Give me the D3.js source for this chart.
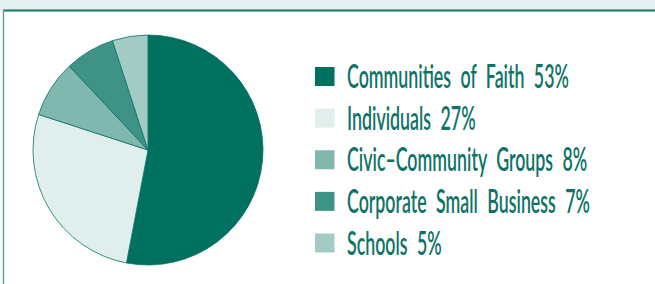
<!DOCTYPE html>
<html><head><meta charset="utf-8">
<script src="https://cdn.jsdelivr.net/npm/d3@7"></script>
<style>html,body{margin:0;padding:0;background:#fff;overflow:hidden}</style>
</head><body>
<svg id="c" width="655" height="284"></svg>
<script>
const categories = ["Communities of Faith", "Individuals", "Civic\u2013Community Groups", "Corporate Small Business", "Schools"];
const values = [53, 27, 8, 7, 5];
const colors = ["#00705f", "#e0eeec", "#80b8b0", "#3e9286", "#a3cbc6"];

const svg = d3.select("#c");
svg.append("rect").attr("x",0).attr("y",0).attr("width",655).attr("height",10).attr("fill","#e5efed");
svg.append("line").attr("x1",3).attr("x2",655).attr("y1",10.5).attr("y2",10.5).attr("stroke","#0e7768").attr("stroke-width",2);
svg.append("line").attr("x1",3.5).attr("x2",3.5).attr("y1",10).attr("y2",284).attr("stroke","#5fa298").attr("stroke-width",1.5);

const data = categories.map((c,i)=>({name:c, value:values[i], color:colors[i]}));
const pie = d3.pie().value(d=>d.value).sort(null);
const arc = d3.arc().innerRadius(0).outerRadius(115);
const g = svg.append("g").attr("transform","translate(148,150)");
g.selectAll("path").data(pie(data)).join("path")
  .attr("d",arc).attr("fill",d=>d.data.color)
  .attr("stroke","#0b7264").attr("stroke-width",0.8).attr("stroke-linejoin","round");

const y = d3.scalePoint().domain(categories).range([76.5,243]);
const leg = svg.append("g");
const rows = leg.selectAll("g").data(data).join("g")
  .attr("transform",d=>`translate(315,${y(d.name)})`);
rows.append("rect").attr("x",0).attr("y",-9.5).attr("width",19.5).attr("height",19).attr("fill",d=>d.color);
const texts = rows.append("text")
  .attr("x",0).attr("y",0).attr("dy","0.36em")
  .attr("fill","#0e7366")
  .style("font-family","Lato, 'Open Sans', sans-serif")
  .style("font-size","32px").style("font-weight","600").style("word-spacing","9px")
  .text(d=>`${d.name} ${d.value}%`);
const w0 = texts.nodes()[0].getComputedTextLength();
const sx = 222 / w0;
texts.attr("transform",`translate(32,0) scale(${sx},1)`);
</script>
</body></html>
